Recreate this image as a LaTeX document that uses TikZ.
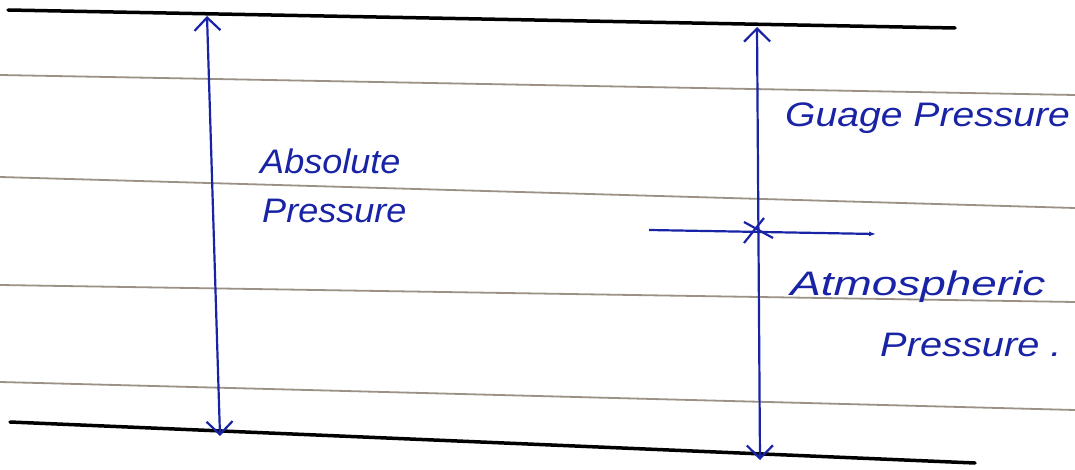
\documentclass[tikz,border=0pt]{standalone}
\usepackage{fontspec}
\setmainfont{Liberation Sans}
\usetikzlibrary{arrows.meta}
\definecolor{ink}{RGB}{25,35,165}
\definecolor{ruleclr}{RGB}{155,145,135}
\begin{document}
\begin{tikzpicture}[x=1pt,y=-1pt,
  ruleline/.style={ruleclr, line width=1.8pt},
  border/.style={black, line width=3.5pt, line cap=round},
  dimarrow/.style={ink, line width=2.2pt, {Straight Barb[length=13pt,width=26pt]}-{Straight Barb[length=13pt,width=26pt]}},
  hand/.style={ink, font=\fontsize{34}{50}\selectfont\itshape, inner sep=0pt, align=left}]
\useasboundingbox (0,0) rectangle (1075,470);
\fill[white] (0,0) rectangle (1075,470);
% ruled paper lines
\draw[ruleline] (0,75) -- (1075,95);
\draw[ruleline] (0,177) -- (1075,208);
\draw[ruleline] (0,285) -- (1075,302);
\draw[ruleline] (0,382) -- (1075,410);
% boundary lines
\coordinate (topL) at (8,10);
\coordinate (topR) at (955,28);
\coordinate (botL) at (10,422);
\coordinate (botR) at (975,463);
\draw[border] (topL) -- (topR);
\draw[border] (botL) -- (botR);
% dimension arrows
\coordinate (absTop) at (207,16);
\coordinate (absBot) at (220,436);
\coordinate (gTop) at (757,27);
\coordinate (gBot) at (760,460);
\draw[dimarrow] (absTop) -- (absBot);
\draw[dimarrow] (gTop) -- (gBot);
% atmospheric level line
\coordinate (atmL) at (649,230);
\coordinate (atmR) at (876,234);
\draw[ink, line width=2.2pt, -{Latex[length=7pt,width=5pt]}] (atmL) -- (atmR);
\coordinate (crossC) at (757,231);
\draw[ink, line width=2.2pt] ([shift={(-13,12)}]crossC) -- ([shift={(7,-13)}]crossC);
\draw[ink, line width=2.2pt] ([shift={(-13,-9)}]crossC) -- ([shift={(16,7)}]crossC);
% labels
\node[hand, anchor=west, xscale=1.06] (abs1) at (260,161) {Absolute};
\node[hand, anchor=west, xscale=1.06] (abs2) at (262,211) {Pressure};
\node[hand, anchor=west, xscale=1.15] (gauge) at (785,118) {Guage Pressure};
\node[hand, anchor=west, xscale=1.35] (atm1) at (790,287) {Atmospheric};
\node[hand, anchor=west, xscale=1.17] (atm2) at (880,345) {Pressure .};
\end{tikzpicture}
\end{document}
